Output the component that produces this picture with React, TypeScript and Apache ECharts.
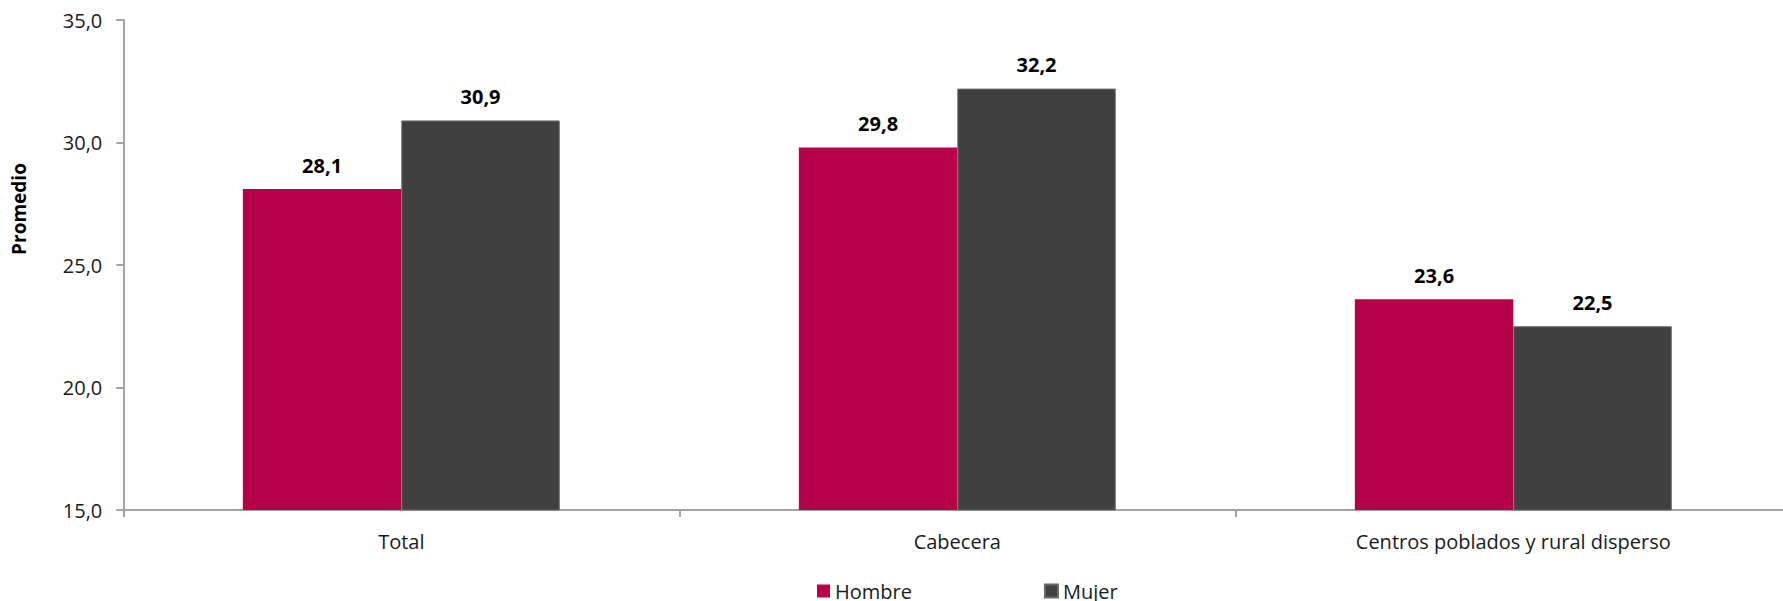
import React, { useEffect, useRef } from "react";
import * as echarts from "echarts";

const categories = ["Total", "Cabecera", "Centros poblados y rural disperso"];
const hombre = [28.1, 29.8, 23.6];
const mujer = [30.9, 32.2, 22.5];
const seriesNames = ["Hombre", "Mujer"];
const yMin = 15;
const yMax = 35;
const yInterval = 5;
const yTitle = "Promedio";

const FONT = "'Open Sans', 'Noto Sans', sans-serif";
const fmt = (v: number) => v.toFixed(1).replace(".", ",");

export default function App() {
  const ref = useRef<HTMLDivElement>(null);
  useEffect(() => {
    if (!ref.current) return;
    const chart = echarts.init(ref.current, null, { renderer: "svg" });
    const axisColor = "#a3a3a3";
    chart.setOption({
      animation: false,
      textStyle: { fontFamily: FONT },
      grid: {
        left: 123.3,
        width: 1668,
        top: 20,
        bottom: 91,
        containLabel: false,
        outerBoundsMode: "none",
      },
      legend: {
        data: seriesNames,
        left: 817,
        top: 581,
        padding: 0,
        itemGap: 132,
        itemWidth: 13,
        itemHeight: 13,
        icon: "rect",
        textStyle: { fontFamily: FONT, fontSize: 20, color: "#1a1a1a", padding: [0, 0, 0, 0] },
      },
      graphic: [
        {
          type: "text",
          x: 19.3,
          y: 209,
          rotation: Math.PI / 2,
          style: {
            text: yTitle,
            font: `bold 19px ${FONT}`,
            fill: "#000",
            align: "center",
            verticalAlign: "middle",
          },
        },
      ],
      xAxis: {
        type: "category",
        data: categories,
        boundaryGap: true,
        axisLine: { lineStyle: { color: axisColor, width: 2 } },
        axisTick: { show: true, length: 7, lineStyle: { color: axisColor, width: 2 } },
        axisLabel: { fontFamily: FONT, fontSize: 20, color: "#1a1a1a", margin: 21.5 },
      },
      yAxis: {
        type: "value",
        min: yMin,
        max: yMax,
        interval: yInterval,
        splitLine: { show: false },
        axisLine: { show: true, lineStyle: { color: axisColor, width: 2 } },
        axisTick: { show: true, length: 7, lineStyle: { color: axisColor, width: 2 } },
        axisLabel: {
          fontFamily: FONT,
          fontSize: 20,
          color: "#1a1a1a",
          margin: 21,
          formatter: (v: number) => fmt(v),
        },
      },
      series: [
        {
          name: seriesNames[0],
          type: "bar",
          data: hombre,
          barGap: "0%",
          barCategoryGap: "43%",
          itemStyle: { color: "#B7004A" },
          label: {
            show: true,
            position: "top",
            distance: 14,
            fontFamily: FONT,
            fontSize: 20,
            fontWeight: "bold",
            color: "#000",
            formatter: (p: any) => fmt(p.value),
          },
        },
        {
          name: seriesNames[1],
          type: "bar",
          data: mujer,
          barGap: "0%",
          barCategoryGap: "43%",
          itemStyle: { color: "#404040", borderColor: "#6a6a6a", borderWidth: 1 },
          label: {
            show: true,
            position: "top",
            distance: 14,
            fontFamily: FONT,
            fontSize: 20,
            fontWeight: "bold",
            color: "#000",
            formatter: (p: any) => fmt(p.value),
          },
        },
      ],
    });
    return () => chart.dispose();
  }, []);
  return (
    <div
      ref={ref}
      style={{ position: "fixed", left: 0, top: 0, width: 1783, height: 601, background: "#fff" }}
    />
  );
}
